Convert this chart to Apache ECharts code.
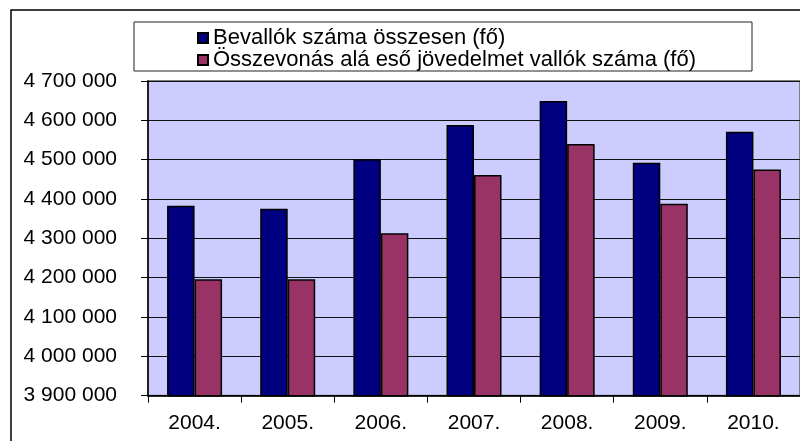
<!DOCTYPE html>
<html>
<head>
<meta charset="utf-8">
<script src="https://cdn.jsdelivr.net/npm/echarts@6/dist/echarts.min.js"></script>
<style>
html,body{margin:0;padding:0;background:#fff;}
#chart{width:800px;height:441px;}
</style>
</head>
<body>
<div id="chart"></div>
<script>
const categories = ['2004.', '2005.', '2006.', '2007.', '2008.', '2009.', '2010.'];
const seriesNames = ['Bevallók száma összesen (fő)', 'Összevonás alá eső jövedelmet vallók száma (fő)'];
const totalFilers = [4383000, 4375000, 4501000, 4588000, 4649000, 4492000, 4571000];
const combinedFilers = [4196000, 4196000, 4313000, 4461000, 4540000, 4388000, 4475000];
const yMin = 3900000, yMax = 4700000, yStep = 100000;

const FONT = '"Liberation Sans", Arial, sans-serif';
const chart = echarts.init(document.getElementById('chart'), null, {renderer: 'canvas'});

function fmt(v) {
  return String(v).replace(/\B(?=(\d{3})+(?!\d))/g, ' ');
}

chart.setOption({
  animation: false,
  backgroundColor: '#ffffff',
  textStyle: {fontFamily: FONT, color: '#000'},
  graphic: [
    {type: 'rect', shape: {x: 11, y: 10, width: 820, height: 460},
     style: {fill: 'none', stroke: '#000', lineWidth: 1.5}, z: 0},
    {type: 'rect', shape: {x: 134, y: 22, width: 618, height: 49},
     style: {fill: '#fff', stroke: '#222', lineWidth: 1}, z: 1}
  ],
  legend: {
    orient: 'vertical',
    left: 197,
    top: 27,
    padding: 0,
    itemGap: 0,
    itemWidth: 10,
    itemHeight: 10,
    icon: 'rect',
    textStyle: {fontFamily: FONT, fontSize: 22, color: '#000', lineHeight: 20},
    data: seriesNames,
    z: 5
  },
  grid: {
    left: 148, top: 81, right: -2, bottom: 45.3,
    show: true, backgroundColor: '#CCCCFF', borderColor: '#808080', borderWidth: 2
  },
  xAxis: {
    type: 'category',
    data: categories,
    boundaryGap: true,
    axisLine: {lineStyle: {color: '#000', width: 1.5}},
    axisTick: {show: true, length: 7, lineStyle: {color: '#000'}},
    axisLabel: {fontFamily: FONT, fontSize: 21, color: '#000', margin: 17}
  },
  yAxis: {
    type: 'value',
    min: yMin, max: yMax, interval: yStep,
    axisLine: {show: true, lineStyle: {color: '#000', width: 1.5}},
    axisTick: {show: true, length: 7, lineStyle: {color: '#000'}},
    axisLabel: {fontFamily: FONT, fontSize: 21, color: '#000', margin: 31, formatter: fmt},
    splitLine: {show: true, lineStyle: {color: '#111', width: 1}}
  },
  series: [
    {
      name: seriesNames[0], type: 'bar', data: totalFilers,
      barWidth: 27.5, barGap: '0%',
      itemStyle: {color: '#000080', borderColor: '#000', borderWidth: 1.5}
    },
    {
      name: seriesNames[1], type: 'bar', data: combinedFilers,
      barWidth: 27.5, barGap: '0%',
      itemStyle: {color: '#993366', borderColor: '#000', borderWidth: 1.5}
    }
  ]
});
</script>
</body>
</html>
